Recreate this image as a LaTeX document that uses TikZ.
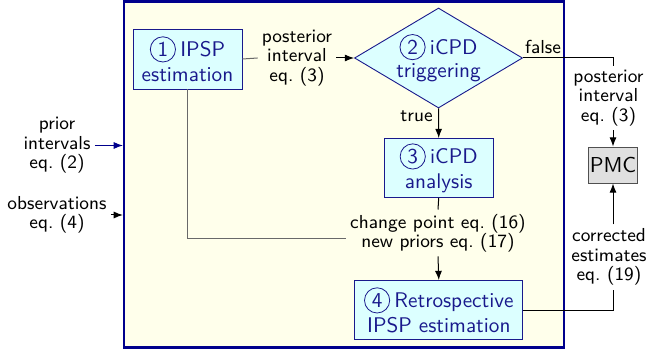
\documentclass[tikz,border=0pt]{standalone}
\usetikzlibrary{shapes.geometric,arrows.meta,calc}
\definecolor{framefill}{RGB}{255,255,235}
\definecolor{framedraw}{RGB}{0,0,140}
\definecolor{stepfill}{RGB}{220,255,255}
\definecolor{stepink}{RGB}{25,25,140}
\definecolor{pmcfill}{RGB}{224,224,224}
\definecolor{pmcdraw}{RGB}{80,80,80}
\definecolor{wire}{RGB}{105,105,105}
% circled step number
\newcommand\stepnum[1]{\tikz[baseline=(sn.base)]\node[draw=stepink,circle,line width=0.4pt,inner sep=0pt,minimum size=12.6pt,text=stepink](sn){#1};\hspace{2.2pt}}
\tikzset{
  frame/.style={draw=framedraw,fill=framefill,line width=1.1pt,rectangle,inner sep=0pt},
  stepbox/.style={draw=stepink,fill=stepfill,line width=0.45pt,rectangle,align=center,
    text=stepink,font=\sffamily\fontsize{10.6}{12.4}\selectfont,inner sep=0pt},
  decision/.style={draw=stepink,fill=stepfill,line width=0.45pt,diamond,aspect=1.68,align=center,
    text=stepink,font=\sffamily\fontsize{10.6}{11.6}\selectfont,inner sep=0pt,
    minimum width=84pt,minimum height=50pt},
  pmcbox/.style={draw=pmcdraw,fill=pmcfill,line width=0.45pt,rectangle,
    font=\sffamily\fontsize{10.8}{12}\selectfont,inner sep=0pt,
    minimum width=24.5pt,minimum height=18pt},
  lbl/.style={align=center,font=\sffamily\fontsize{9.4}{9.7}\selectfont,inner sep=2pt},
  link/.style={line width=0.5pt,draw=black},
  graylink/.style={line width=0.5pt,draw=wire},
  tip/.style={-{Latex[length=4.6pt,width=3.5pt]}},
}
\begin{document}
\begin{tikzpicture}[x=0.5pt,y=-0.5pt]
\useasboundingbox (0,0) rectangle (647,352);

% outer frame
\node[frame,minimum width=220pt,minimum height=173pt] (frame) at (344,174.5) {};

% process steps
\node[stepbox,minimum width=54.5pt,minimum height=30pt] (b1) at (187.5,59)
  {\stepnum{1}IPSP\\estimation};
\node[decision] (dia) at (438.5,58) {\stepnum{2}iCPD\\triggering};
\node[stepbox,minimum width=54.5pt,minimum height=29.5pt] (b3) at (438.7,168)
  {\stepnum{3}iCPD\\analysis};
\node[stepbox,minimum width=84pt,minimum height=29.5pt] (b4) at (438.8,310)
  {\stepnum{4}Retrospective\\IPSP estimation};
\node[pmcbox] (pmc) at (613,165) {PMC};

% labels
\node[lbl] (lpost) at (297,58) {posterior\\interval\\eq.~(3)};
\node[lbl] (lpost2) at (608.5,98) {posterior\\interval\\eq.~(3)};
\node[lbl] (lcorr) at (609,257) {corrected\\estimates\\eq.~(19)};
\node[lbl] (lcp) at (438,233) {change point eq.~(16)\\new priors eq.~(17)};
\node[lbl] (lprior) at (57,145.5) {prior\\intervals\\eq.~(2)};
\node[lbl] (lobs) at (57,215) {observations\\eq.~(4)};
\node[lbl,anchor=south] (lfalse) at (543,58) {false};
\node[lbl,anchor=east] (ltrue) at (437,116) {true};

% connectors
\draw[graylink] (b1.east) -- (lpost.west);
\draw[link,tip] (lpost.east) -- (dia.west);
\draw[link] (dia.east) -| (pmc.north |- lpost2.north);
\draw[link,tip] (pmc.north |- lpost2.south) -- (pmc.north);
\draw[link,tip] (dia.south) -- (b3.north);
\draw[link] (b3.south) -- (lcp.north);
\draw[graylink] (b1.south) |- ([yshift=-2.7pt]lcp.west);
\draw[link,tip] (lcp.south) -- (b4.north);
\draw[link] (b4.east) -| (pmc.south |- lcorr.south);
\draw[link,tip] (pmc.south |- lcorr.north) -- (pmc.south);
\draw[link,draw=framedraw,tip] (lprior.east) -- (lprior.east -| frame.west);
\draw[link,tip] (lobs.east) -- (lobs.east -| frame.west);
\end{tikzpicture}
\end{document}
